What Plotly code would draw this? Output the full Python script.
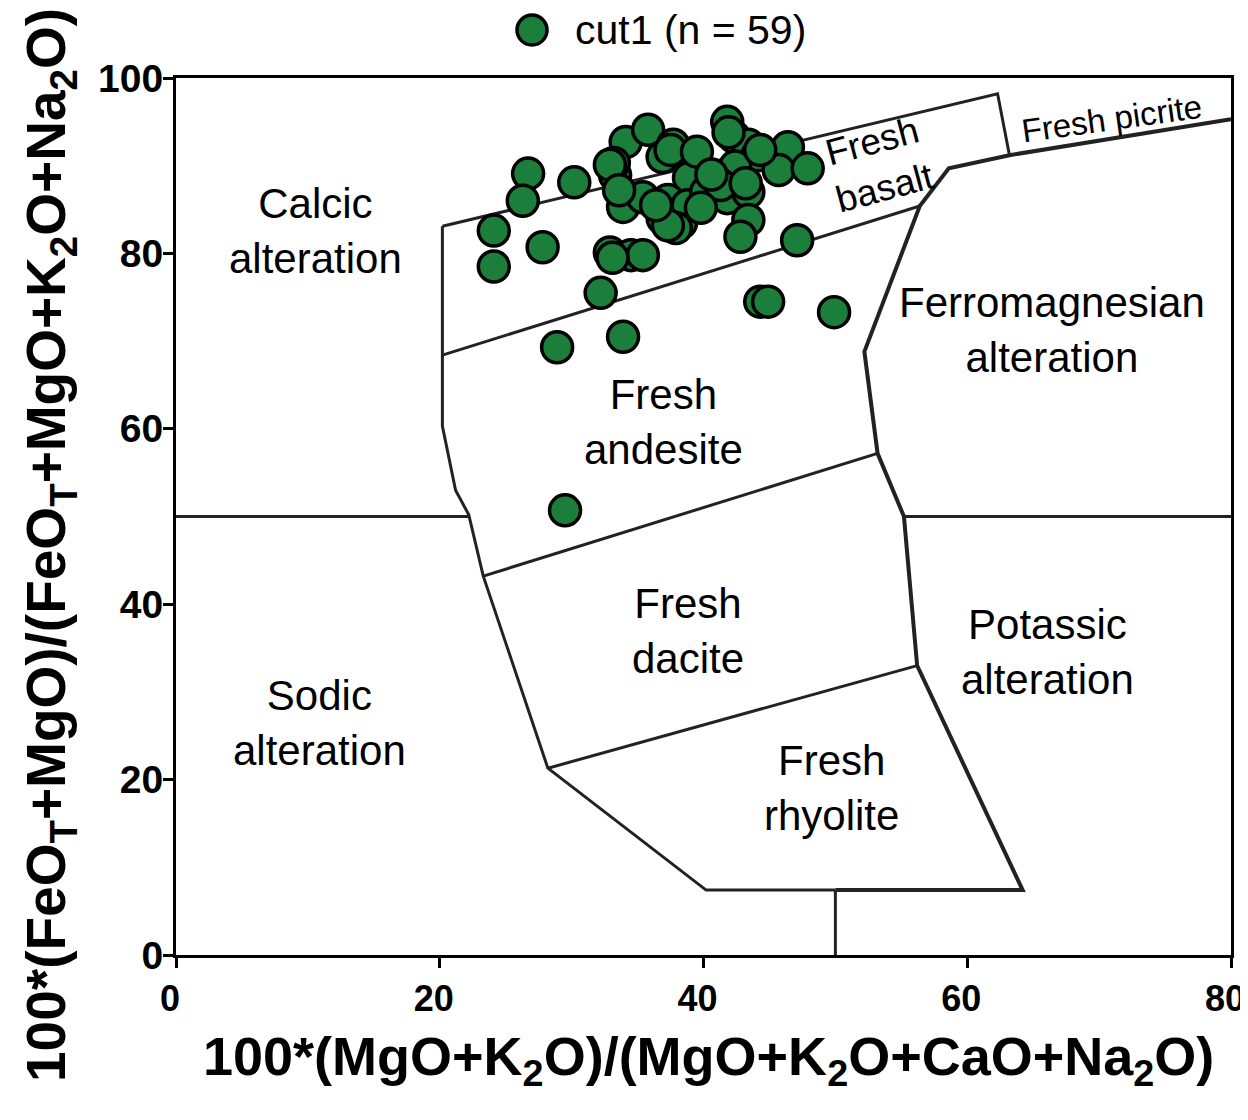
import plotly.graph_objects as go

# sample compositions (alteration box plot)
sample_x = [26.7, 26.3, 24.1, 24.1, 27.8, 30.2, 34.1, 35.8, 33.3, 33.2,
            36.9, 37.7, 39.0, 39.4, 38.9, 33.9, 35.4, 37.3, 36.9, 38.3,
            38.8, 40.2, 41.8, 43.4, 41.8, 42.3, 43.4, 44.1, 42.4, 46.4,
            45.7, 47.9, 43.4, 42.8, 47.1, 32.9, 34.5, 35.4, 32.2, 33.9,
            28.9, 29.5, 44.3, 44.9, 49.9, 32.9, 33.6, 37.5, 39.5, 44.3,
            41.3, 43.2, 37.9, 37.3, 39.8, 41.9, 36.4, 33.1, 40.6]
sample_y = [89.1, 86.0, 82.6, 78.5, 80.7, 88.1, 92.7, 94.1, 88.9, 90.3,
            91.0, 92.4, 90.9, 90.3, 88.6, 85.3, 86.4, 86.1, 84.0, 83.5,
            85.5, 87.0, 86.3, 87.0, 95.0, 93.3, 92.4, 91.2, 89.9, 92.1,
            89.5, 89.7, 83.8, 81.9, 81.5, 80.1, 79.8, 79.8, 75.5, 70.5,
            69.3, 50.7, 74.5, 74.5, 73.3, 90.1, 87.2, 91.8, 91.6, 91.8,
            87.8, 88.0, 82.9, 83.2, 85.2, 93.8, 85.5, 79.5, 89.0]

# field boundaries of the diagram
outer_x = [20.2, 20.2, 21.2, 22.2, 23.3, 28.2, 40.2, 50.0]
outer_y = [83.1, 60.3, 53.0, 50.2, 43.2, 21.3, 7.4, 7.4]
right_x = [50.0, 64.2, 56.2, 55.2, 53.2, 52.2, 56.4, 58.6, 63.2, 80.0]
right_y = [7.4, 7.4, 33.0, 50.0, 57.2, 68.8, 85.4, 89.7, 91.2, 95.3]
basalt_top_x = [20.2, 62.3, 63.2]
basalt_top_y = [83.1, 98.2, 91.2]
inner_lines = [
    ([20.2, 56.4], [68.4, 85.4]),   # basalt / andesite
    ([23.3, 53.2], [43.2, 57.2]),   # andesite / dacite
    ([28.2, 56.2], [21.3, 33.0]),   # dacite / rhyolite
    ([0.0, 22.2], [50.0, 50.0]),    # calcic / sodic
    ([55.2, 80.0], [50.0, 50.0]),   # ferromagnesian / potassic
    ([50.0, 50.0], [0.0, 7.4]),
]

field_names = ["Calcic<br>alteration", "Sodic<br>alteration", "Fresh<br>andesite",
               "Fresh<br>dacite", "Fresh<br>rhyolite", "Ferromagnesian<br>alteration",
               "Potassic<br>alteration"]
field_x = [10.6, 10.9, 37.0, 38.8, 49.7, 66.4, 66.1]
field_y = [82.6, 26.5, 60.8, 37.0, 19.0, 71.3, 34.5]

x_ticks = [0, 20, 40, 60, 80]
y_ticks = [0, 20, 40, 60, 80, 100]

FONT = "Liberation Sans, Arial, sans-serif"
GREEN = "#1b7e3a"

fig = go.Figure()

line_style = dict(color="#222222", width=3)
fig.add_trace(go.Scatter(x=outer_x, y=outer_y, mode="lines", line=line_style,
                         hoverinfo="skip", showlegend=False))
fig.add_trace(go.Scatter(x=right_x, y=right_y, mode="lines",
                         line=dict(color="#222222", width=4),
                         hoverinfo="skip", showlegend=False))
fig.add_trace(go.Scatter(x=basalt_top_x, y=basalt_top_y, mode="lines", line=line_style,
                         hoverinfo="skip", showlegend=False))
for lx, ly in inner_lines:
    fig.add_trace(go.Scatter(x=lx, y=ly, mode="lines", line=line_style,
                             hoverinfo="skip", showlegend=False))

fig.add_trace(go.Scatter(
    x=sample_x, y=sample_y, mode="markers", name="cut1 (n = 59)",
    marker=dict(size=31, color=GREEN, line=dict(color="black", width=3.5)),
    showlegend=False,
))

for name, fx, fy in zip(field_names, field_x, field_y):
    fig.add_annotation(x=fx, y=fy, text=name, showarrow=False,
                       font=dict(family=FONT, size=42, color="black"))

fig.add_annotation(x=53.3, y=90.1, text="Fresh<br>basalt", showarrow=False, textangle=-15,
                   font=dict(family=FONT, size=37, color="black"))
fig.add_annotation(x=71.0, y=95.4, text="Fresh picrite", showarrow=False, textangle=-8,
                   font=dict(family=FONT, size=33, color="black"))

# legend drawn by hand so the marker keeps its size
fig.add_shape(type="circle", xref="paper", yref="paper",
              x0=0.3232, x1=0.3517, y0=1.0376, y1=1.0718,
              fillcolor=GREEN, line=dict(color="black", width=3.5))
fig.add_annotation(xref="paper", yref="paper", x=0.3763, y=1.0547,
                   xanchor="left", yanchor="middle",
                   text="cut1 (n = 59)", showarrow=False,
                   font=dict(family=FONT, size=41, color="black"))

# axis titles
fig.add_annotation(xref="paper", yref="paper", x=0.505, y=-0.12,
                   xanchor="center", yanchor="middle",
                   text="100*(MgO+K<sub>2</sub>O)/(MgO+K<sub>2</sub>O+CaO+Na<sub>2</sub>O)",
                   showarrow=False, font=dict(family=FONT, size=54, color="black", weight="bold"))
fig.add_annotation(xref="paper", yref="paper", x=-0.1194, y=0.4675, textangle=-90,
                   xanchor="center", yanchor="middle",
                   text="100*(FeO<sub>T</sub>+MgO)/(FeO<sub>T</sub>+MgO+K<sub>2</sub>O+Na<sub>2</sub>O)",
                   showarrow=False, font=dict(family=FONT, size=55, color="black", weight="bold"))

axis_common = dict(showline=True, linewidth=3, linecolor="black", mirror=True,
                   ticks="outside", ticklen=10, tickwidth=3, tickcolor="black",
                   showgrid=False, zeroline=False, automargin=False,
                   ticklabeloverflow="allow")
fig.update_xaxes(range=[0, 80], tickvals=x_ticks, ticklabelshift=-6,
                 tickfont=dict(family=FONT, size=36, color="black", weight="bold"),
                 **axis_common)
fig.update_yaxes(range=[0, 100], tickvals=y_ticks, ticklabelstandoff=-8,
                 tickfont=dict(family=FONT, size=39, color="black", weight="bold"),
                 **axis_common)

# the page adds an 8px body margin all round, so the figure is kept smaller
# than the window to avoid scrollbars
fig.update_layout(
    width=1240, height=1096,
    margin=dict(l=168, r=17, t=70, b=149, autoexpand=False),
    plot_bgcolor="white", paper_bgcolor="white",
    showlegend=False,
)

fig.write_html("out.html")
